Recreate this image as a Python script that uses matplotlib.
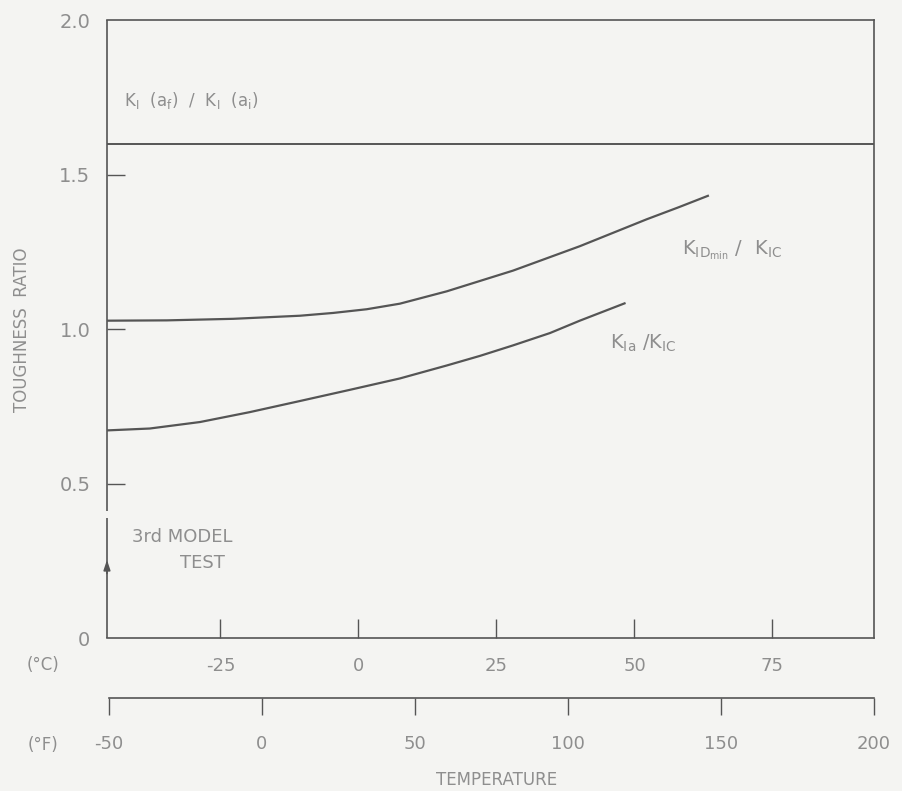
import numpy as np
import matplotlib.pyplot as plt

# temperatures in deg C, ratios
kid_temp = [-45.4, -34.7, -22.7, -10.6, -4.6, 1.5, 7.5, 16.0, 28.0, 40.1, 52.2, 58.0, 63.3]
kid_ratio = [1.027, 1.028, 1.033, 1.043, 1.052, 1.064, 1.082, 1.122, 1.189, 1.268, 1.355, 1.394, 1.431]

kia_temp = [-45.4, -37.8, -28.7, -19.7, -10.6, -1.6, 7.5, 16.0, 22.0, 28.0, 34.7, 40.1, 48.2]
kia_ratio = [0.672, 0.678, 0.699, 0.731, 0.767, 0.803, 0.840, 0.882, 0.913, 0.947, 0.987, 1.027, 1.083]

kf_ratio = 1.6

c_ticks = [-25, 0, 25, 50, 75]
f_ticks = [-50, 0, 50, 100, 150, 200]
y_ticks = [0, 0.5, 1.0, 1.5, 2.0]
y_labels = ["0", "0.5", "1.0", "1.5", "2.0"]

f_min, f_max = -50, 200
c_min, c_max = (f_min - 32) / 1.8, (f_max - 32) / 1.8

bg = "#f4f4f2"
ink = "#555555"
txt = "#8e8e8e"

plt.rcParams["font.family"] = ["DejaVu Sans"]
plt.rcParams["mathtext.default"] = "regular"

fig = plt.figure(figsize=(9.02, 7.91), dpi=100, facecolor=bg)
ax = fig.add_axes([0.1186, 0.1934, 0.850, 0.7813], facecolor=bg)

ax.plot(kid_temp, kid_ratio, color=ink, lw=1.6, solid_joinstyle="round")
ax.plot(kia_temp, kia_ratio, color=ink, lw=1.6, solid_joinstyle="round")
ax.axhline(kf_ratio, color=ink, lw=1.4)

ax.set_xlim(c_min, c_max)
ax.set_ylim(0, 2.0)

for s in ["top", "right", "bottom"]:
    ax.spines[s].set_color(ink)
    ax.spines[s].set_linewidth(1.2)
ax.spines["left"].set_visible(False)
# left axis drawn with a small gap where the arrow starts
ax.vlines([c_min, c_min], [0, 0.41], [0.39, 2.0], color=ink, lw=1.2, clip_on=False)
ax.annotate("", xy=(c_min, 0.262), xytext=(c_min, 0.20),
            arrowprops=dict(arrowstyle="-|>,head_length=0.6,head_width=0.2",
                            color=ink, lw=1.2))

ax.set_xticks(c_ticks)
ax.set_xticklabels([str(t) for t in c_ticks])
ax.set_yticks(y_ticks)
ax.set_yticklabels(y_labels)
ax.tick_params(axis="x", direction="in", length=14, width=1.0, color=ink,
               labelcolor=txt, labelsize=13, pad=14)
ax.tick_params(axis="y", direction="in", length=13, width=1.0, color=ink,
               labelcolor=txt, labelsize=14, pad=12)
yt = ax.yaxis.get_major_ticks()
yt[0].tick1line.set_visible(False)
yt[-1].tick1line.set_visible(False)

ax.text(-42.5, 1.74, r"$K_I\ \ (a_f)\ \ /\ \ K_I\ \ (a_i)$", color=txt, fontsize=12,
        va="center", ha="left")
ax.text(58.7, 1.255, r"$K_{ID_{min}}\ /\ \ K_{IC}$", color=txt, fontsize=14,
        va="center", ha="left")
ax.text(45.5, 0.955, r"$K_{Ia}\ /K_{IC}$", color=txt, fontsize=14,
        va="center", ha="left")
ax.text(-41.0, 0.326, "3rd MODEL", color=txt, fontsize=13, va="center", ha="left")
ax.text(-32.3, 0.242, "TEST", color=txt, fontsize=13, va="center", ha="left")

fig.text(0.024, 0.583, "TOUGHNESS  RATIO", rotation=90, color=txt, fontsize=12,
         va="center", ha="center")
fig.text(0.048, 0.159, "(°C)", color=txt, fontsize=12, va="center", ha="center")
fig.text(0.048, 0.058, "(°F)", color=txt, fontsize=12, va="center", ha="center")
fig.text(0.551, 0.014, "TEMPERATURE", color=txt, fontsize=12, va="center", ha="center")

# fahrenheit scale below
axf = fig.add_axes([0.1208, 0.1176, 0.8478, 0.0001], facecolor="none")
axf.set_xlim(f_min, f_max)
axf.set_yticks([])
for s in ["top", "left", "right"]:
    axf.spines[s].set_visible(False)
axf.spines["bottom"].set_color(ink)
axf.spines["bottom"].set_linewidth(1.2)
axf.set_xticks(f_ticks)
axf.set_xticklabels([str(t) for t in f_ticks])
axf.tick_params(axis="x", direction="out", length=12, width=1.0, color=ink,
                labelcolor=txt, labelsize=13, pad=15)

fig.savefig("out.png", dpi=100, facecolor=bg)
